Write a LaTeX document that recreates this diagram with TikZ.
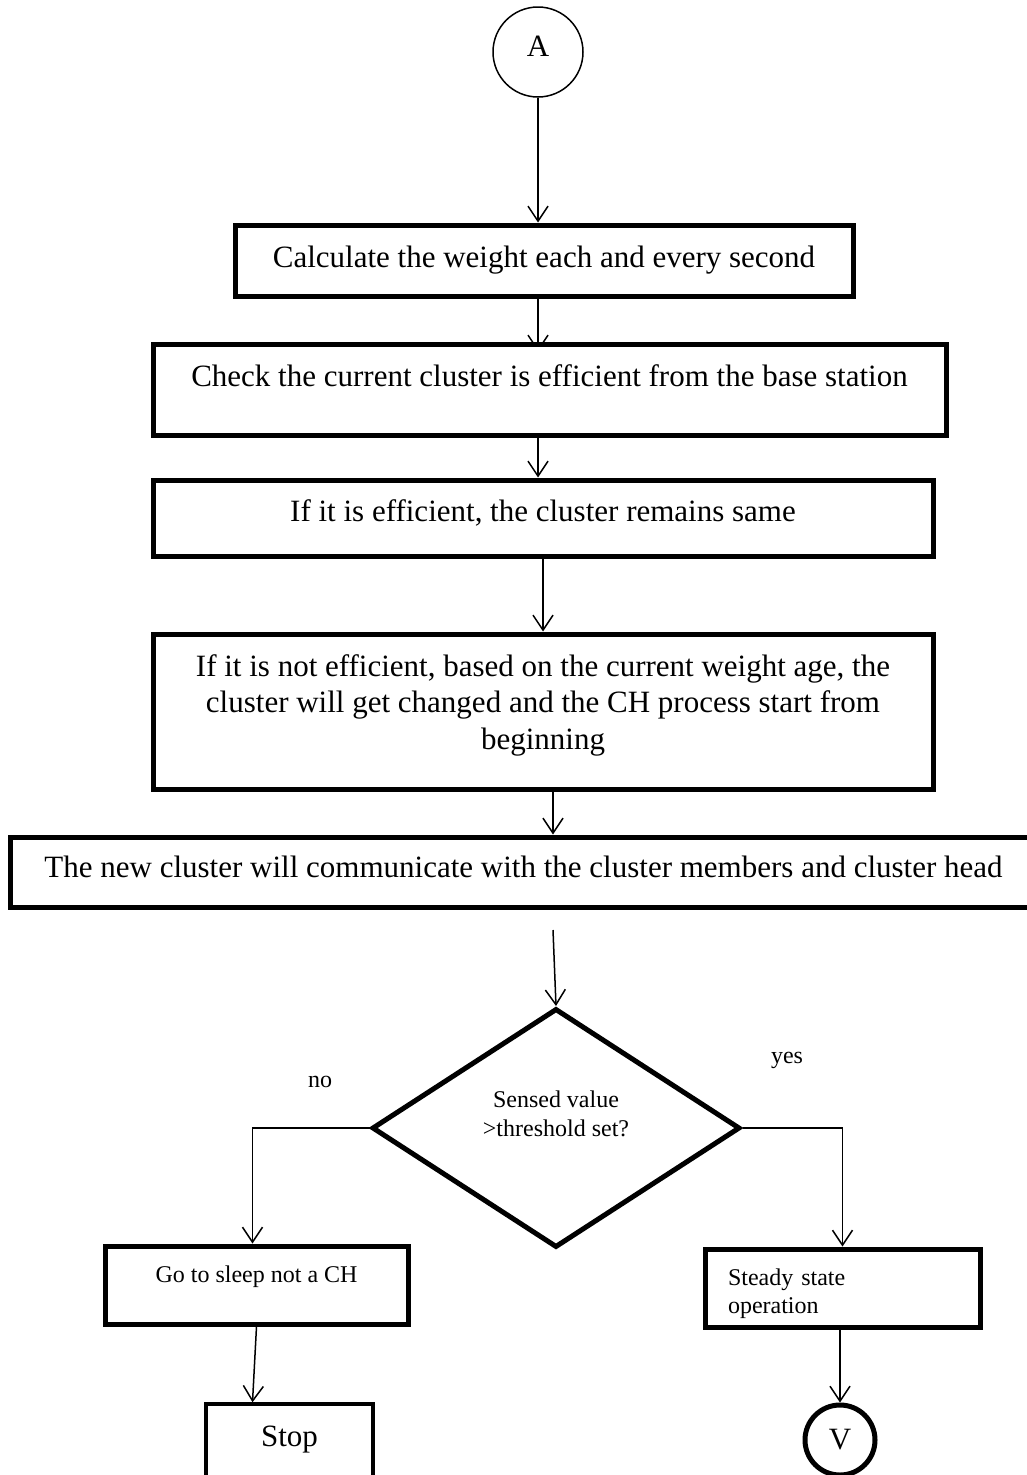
\documentclass[tikz,border=0pt]{standalone}
\usepackage{fontspec}
\setmainfont{Liberation Serif}
\usetikzlibrary{arrows.meta,shapes.geometric,backgrounds}

\tikzset{
  blk/.style={draw, line width=5pt, inner sep=0pt, align=center, fill=white},
  arr/.style={line width=1.5pt, -{Straight Barb[length=15pt,width=20pt,line width=1.5pt]}},
  big/.style={font=\fontsize{31}{36.5}\selectfont},
  small/.style={font=\fontsize{24}{28.5}\selectfont}
}

\begin{document}
\begin{tikzpicture}[x=1pt,y=-1pt,big]
  \useasboundingbox (0,0) rectangle (1026,1475);

  \node[draw, circle, line width=1.5pt, minimum size=90pt, inner sep=0pt, text height=20pt, text depth=12pt] (A) at (538,52) {A};

  \node[blk, minimum width=618pt, text height=42pt, text depth=29pt] (calc) at (544,260.5)
    {Calculate the weight each and every second};
  \node[blk, minimum width=793pt, text height=42pt, text depth=49pt] (check) at (549.5,389.5)
    {Check the current cluster is efficient from the base station};
  \node[blk, minimum width=780pt, text height=41pt, text depth=35pt] (same) at (543,518)
    {If it is efficient, the cluster remains same};
  \node[blk, minimum width=780pt, text height=115pt, text depth=40pt] (change) at (543,711.5)
    {If it is not efficient, based on the current weight age, the\\cluster will get changed and the CH process start from\\beginning};
  \node[blk, minimum width=1027pt, text height=40pt, text depth=30pt] (comm) at (523.5,872)
    {The new cluster will communicate with the cluster members and cluster head};

  \node[draw, diamond, aspect=1.54, line width=5pt, minimum width=368pt, minimum height=239pt,
        inner sep=0pt, small, align=center, text height=50pt, text depth=34pt] (dec) at (556,1128)
    {Sensed value\\>threshold set?};
  \node[small] (no) at (320,1082) {no};
  \node[small] (yes) at (787,1060) {yes};

  \node[blk, small, minimum width=303pt, text height=36pt, text depth=42pt] (sleep) at (256.5,1285)
    {Go to sleep not a CH};
  \node[blk, line width=3.5pt, minimum width=167pt, text height=42pt, text depth=54pt] (stop) at (289.5,1452)
    {Stop};
  \node[blk, small, align=left, text width=229pt, inner xsep=23pt, text height=36pt, text depth=42pt] (steady) at (842.5,1288)
    {Steady state\\operation};
  \node[draw, circle, line width=5pt, minimum size=70pt, inner sep=0pt] (V) at (840,1440) {V};

  \coordinate (gap) at (553,930);

  % this one runs under the box below it
  \begin{pgfonlayer}{background}
    \draw[arr] (A |- calc.south) -- ([yshift=-10pt]A |- check.north);
  \end{pgfonlayer}

  \draw[arr] (A) -- (A |- calc.north);
  \draw[arr] (A |- check.south) -- (A |- same.north);
  \draw[arr] (same) -- (change);
  \draw[arr] ([xshift=10pt]change.south) -- ([xshift=10pt]change.south |- comm.north);
  \draw[arr] (gap) -- (dec.north);
  \draw[arr] (dec.west) -| ([xshift=-4pt]sleep.north);
  \draw[arr] (dec.east) -| (steady.north);
  \draw[arr] (sleep.south) -- ([xshift=-37pt]stop.north);
  \draw[arr] (V |- steady.south) -- (V);
\end{tikzpicture}
\end{document}
